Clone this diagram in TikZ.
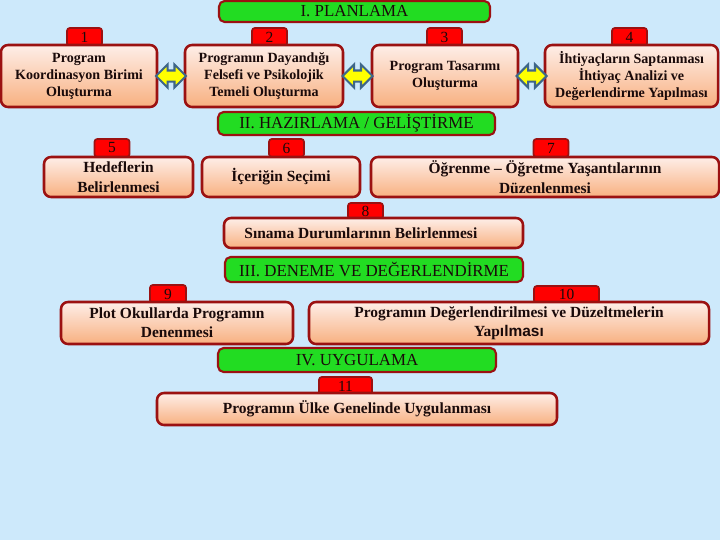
\documentclass[tikz,border=0pt]{standalone}
\usepackage{fontspec}
\setmainfont{Liberation Serif}
\newfontfamily\sansfont{Liberation Sans}
\usepackage{xcolor}
\usetikzlibrary{shapes.arrows,calc}

\definecolor{fondo}{HTML}{CDE9FB}
\definecolor{borde}{HTML}{9B1111}
\definecolor{verde}{HTML}{22DC22}
\definecolor{rojo}{HTML}{FF0000}
\definecolor{cajaarriba}{HTML}{FEEEE8}
\definecolor{cajamedio}{HTML}{FBCBAD}
\definecolor{cajaabajo}{HTML}{F8B080}
\definecolor{azul}{HTML}{3E6688}
\definecolor{amarillo}{HTML}{FFFF00}
\definecolor{texto}{HTML}{1A0A0A}
\def\pu{0.025cm}

\begin{document}
\begin{tikzpicture}[x=0.025cm,y=-0.025cm,
  caja/.style={draw=borde, line width=1.8pt, rounded corners=5pt,
    top color=cajaarriba, middle color=cajamedio, bottom color=cajaabajo,
    inner sep=0pt, align=center, text=texto,
    font=\bfseries\fontsize{11}{14}\selectfont},
  titulo/.style={draw=borde, fill=verde, line width=1.5pt, rounded corners=4pt,
    inner sep=0pt, text=texto, font=\fontsize{12}{14}\selectfont},
  num/.style={draw=borde, fill=rojo, line width=1.2pt, rounded corners=2pt,
    inner sep=0pt, text=texto, font=\fontsize{11}{12}\selectfont},
  flecha/.style={double arrow, draw=azul, fill=amarillo, line width=1.5pt,
    inner xsep=0pt, inner ysep=4.5*\pu, double arrow head extend=6*\pu,
    minimum height=30*\pu}]
  \useasboundingbox (0,0) rectangle (720,540);
  % Fondo
  \fill[fondo] (0,0) rectangle (720,540);

  % I. Planlama
  \node[titulo, minimum width=271*\pu, minimum height=21*\pu] (t1) at (354.5,11.5) {I. PLANLAMA};
  \node[num, minimum width=35*\pu, minimum height=18*\pu] (n1) at (84.5,37) {1};
  \node[num, minimum width=35*\pu, minimum height=18*\pu] (n2) at (269.5,37) {2};
  \node[num, minimum width=35*\pu, minimum height=18*\pu] (n3) at (444.5,37) {3};
  \node[num, minimum width=35*\pu, minimum height=18*\pu] (n4) at (629.5,37) {4};
  \node[caja, minimum width=156*\pu, minimum height=62*\pu, font=\bfseries\fontsize{10}{12}\selectfont]
    (b1) at (79,76) {Program\\Koordinasyon Birimi\\Oluşturma};
  \node[caja, minimum width=158*\pu, minimum height=62*\pu, font=\bfseries\fontsize{10}{12}\selectfont]
    (b2) at (264,76) {Programın Dayandığı\\Felsefi ve Psikolojik\\Temeli Oluşturma};
  \node[caja, minimum width=146*\pu, minimum height=62*\pu, font=\bfseries\fontsize{10}{12}\selectfont]
    (b3) at (445,76) {Program Tasarımı\\Oluşturma};
  \node[caja, minimum width=173*\pu, minimum height=62*\pu, font=\bfseries\fontsize{10}{12}\selectfont]
    (b4) at (631.5,76) {İhtiyaçların Saptanması\\İhtiyaç Analizi ve\\Değerlendirme Yapılması};
  \node[flecha] (f12) at ($(b1.east)!0.5!(b2.west)$) {};
  \node[flecha] (f23) at ($(b2.east)!0.5!(b3.west)$) {};
  \node[flecha] (f34) at ($(b3.east)!0.5!(b4.west)$) {};

  % II. Hazirlama
  \node[titulo, minimum width=277*\pu, minimum height=23*\pu] (t2) at (356.5,123.5) {II. HAZIRLAMA / GELİŞTİRME};
  \node[num, minimum width=35*\pu, minimum height=18*\pu] (n5) at (112,148) {5};
  \node[num, minimum width=35*\pu, minimum height=18*\pu] (n6) at (286.5,148) {6};
  \node[num, minimum width=35*\pu, minimum height=18*\pu] (n7) at (551,148) {7};
  \node[num, minimum width=35*\pu, minimum height=16*\pu] (n8) at (365.5,211) {8};
  \node[caja, minimum width=149*\pu, minimum height=40*\pu] (b5) at (118.5,177) {Hedeflerin\\Belirlenmesi};
  \node[caja, minimum width=158*\pu, minimum height=40*\pu] (b6) at (281,177) {İçeriğin Seçimi};
  \node[caja, minimum width=348*\pu, minimum height=40*\pu] (b7) at (545,177)
    {Öğrenme – Öğretme Yaşantılarının\\Düzenlenmesi};
  \node[caja, minimum width=299*\pu, minimum height=30*\pu] (b8) at (373.5,233)
    {Sınama Durumlarının Belirlenmesi\hspace*{18pt}};

  % III. Deneme
  \node[titulo, minimum width=298*\pu, minimum height=25*\pu] (t3) at (374,269.5) {III. DENEME VE DEĞERLENDİRME};
  \node[num, minimum width=36*\pu, minimum height=18*\pu] (n9) at (168,294) {9};
  \node[num, minimum width=65*\pu, minimum height=17*\pu] (n10) at (566.5,294.5) {10};
  \node[caja, minimum width=232*\pu, minimum height=42*\pu, font=\bfseries\fontsize{11}{13.5}\selectfont]
    (b9) at (177,323) {Plot Okullarda Programın\\Denenmesi};
  \node[caja, minimum width=400*\pu, minimum height=42*\pu, font=\bfseries\fontsize{11}{13.5}\selectfont]
    (b10) at (509,323) {Programın Değerlendirilmesi ve Düzeltmelerin\\Yap{\sansfont ılması}};

  % IV. Uygulama
  \node[titulo, minimum width=278*\pu, minimum height=24*\pu] (t4) at (357,360) {IV. UYGULAMA};
  \node[num, minimum width=53*\pu, minimum height=18*\pu] (n11) at (345.5,386) {11};
  \node[caja, minimum width=400*\pu, minimum height=32*\pu] (b11) at (357,409)
    {Programın Ülke Genelinde Uygulanması};
\end{tikzpicture}
\end{document}
